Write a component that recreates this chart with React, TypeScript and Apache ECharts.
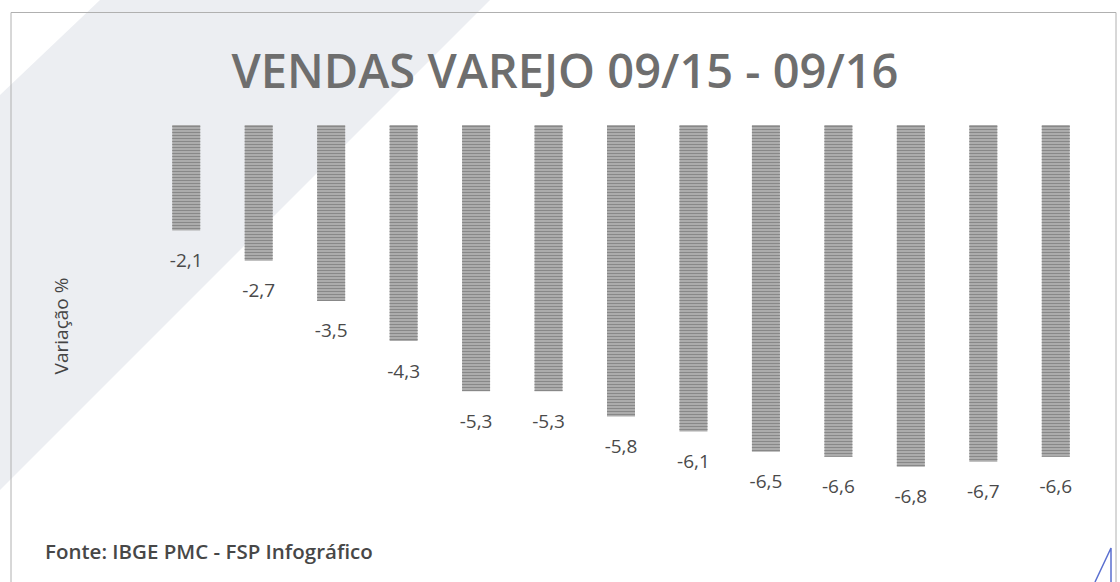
import React, { useEffect, useRef } from "react";
import * as echarts from "echarts";

const categories = ["set/15", "out/15", "nov/15", "dez/15", "jan/16", "fev/16", "mar/16", "abr/16", "mai/16", "jun/16", "jul/16", "ago/16", "set/16"];
const values = [-2.1, -2.7, -3.5, -4.3, -5.3, -5.3, -5.8, -6.1, -6.5, -6.6, -6.8, -6.7, -6.6];
const titleText = "VENDAS VAREJO 09/15 - 09/16";
const yAxisName = "Variação %";
const sourceText = "Fonte: IBGE PMC - FSP Infográfico";

export default function App() {
  const ref = useRef<HTMLDivElement>(null);
  useEffect(() => {
    if (!ref.current) return;
    const chart = echarts.init(ref.current, null, { renderer: "svg" });
    const font = "'Open Sans', 'DejaVu Sans', sans-serif";
    chart.setOption({
      animation: false,
      backgroundColor: "#ffffff",
      aria: { enabled: true, decal: { show: true } },
      grid: { left: 150, right: 28, top: 125, bottom: 55, containLabel: false },
      xAxis: {
        type: "category",
        data: categories,
        position: "top",
        axisLine: { show: false },
        axisTick: { show: false },
        axisLabel: { show: false },
        splitLine: { show: false },
      },
      yAxis: {
        type: "value",
        min: -8,
        max: 0,
        interval: 1,
        name: yAxisName,
        nameLocation: "middle",
        nameGap: 80,
        nameRotate: 90,
        nameTextStyle: { fontFamily: font, fontSize: 19, color: "#444444" },
        axisLine: { show: false },
        axisTick: { show: false },
        axisLabel: { show: false },
        splitLine: { show: false },
      },
      graphic: [
        {
          type: "polygon",
          z: -10,
          silent: true,
          shape: { points: [[100, 0], [490, 0], [0, 490], [0, 95]] },
          style: { fill: "#eceef2" },
        },
        {
          type: "polyline",
          z: -5,
          silent: true,
          shape: { points: [[11, 582], [11, 12.5], [1116, 12.5], [1116, 582]] },
          style: { stroke: "#b0b0b0", lineWidth: 1, fill: "none" },
        },
        {
          type: "text",
          x: 565,
          y: 70,
          style: {
            text: titleText,
            fontFamily: font,
            fontSize: 47,
            fontWeight: 600,
            fill: "#6e6e6e",
            align: "center",
            verticalAlign: "middle",
          },
        },
        {
          type: "text",
          x: 45,
          y: 551,
          style: {
            text: sourceText,
            fontFamily: font,
            fontSize: 20.5,
            fontWeight: 600,
            fill: "#474747",
            align: "left",
            verticalAlign: "middle",
          },
        },
        {
          type: "polyline",
          silent: true,
          shape: { points: [[1095, 582], [1111, 548], [1111, 582]] },
          style: { stroke: "#5a6fd0", lineWidth: 1.5, fill: "none" },
        },
      ],
      series: [
        {
          type: "bar",
          data: values,
          barWidth: 28,
          itemStyle: {
            color: "#acacac",
            decal: {
              symbol: "rect",
              symbolSize: 1,
              color: "#888888",
              dashArrayX: [1, 0],
              dashArrayY: [1, 2],
              rotation: 0,
            },
          },
          label: {
            show: true,
            position: "bottom",
            distance: 20,
            fontFamily: font,
            fontSize: 19,
            color: "#4a4a4a",
            formatter: (p: any) => String(p.value).replace(".", ","),
          },
        },
      ],
    });
    return () => chart.dispose();
  }, []);
  return (
    <div
      ref={ref}
      style={{ position: "absolute", left: 0, top: 0, width: 1120, height: 582 }}
    />
  );
}
